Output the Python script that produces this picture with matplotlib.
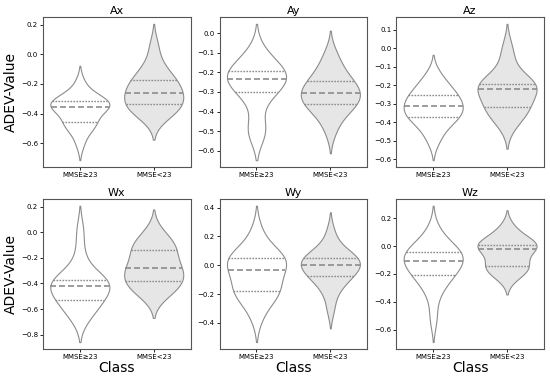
import numpy as np
import pandas as pd
import matplotlib
matplotlib.use("Agg")
import matplotlib.pyplot as plt
import seaborn as sns

classes = ["MMSE≥23", "MMSE<23"]
panels = ["Ax", "Ay", "Az", "Wx", "Wy", "Wz"]

# ADEV values per class
ax_hi = [-0.60, -0.52, -0.48, -0.47, -0.46, -0.44, -0.38, -0.36, -0.355,
         -0.355, -0.35, -0.34, -0.315, -0.31, -0.305, -0.30, -0.26, -0.19]
ax_lo = [-0.43, -0.40, -0.38, -0.36, -0.34, -0.33, -0.31, -0.29, -0.27,
         -0.25, -0.23, -0.21, -0.19, -0.17, -0.14, -0.11, -0.05, 0.06]
ay_hi = [-0.51, -0.50, -0.48, -0.36, -0.30, -0.29, -0.28, -0.26, -0.24,
         -0.225, -0.22, -0.21, -0.20, -0.19, -0.185, -0.16, -0.12, -0.09]
ay_lo = [-0.50, -0.44, -0.40, -0.38, -0.365, -0.36, -0.34, -0.32, -0.31,
         -0.30, -0.29, -0.28, -0.25, -0.24, -0.22, -0.19, -0.15, -0.10]
az_hi = [-0.50, -0.45, -0.41, -0.38, -0.375, -0.37, -0.35, -0.33, -0.32,
         -0.305, -0.30, -0.28, -0.26, -0.25, -0.23, -0.21, -0.18, -0.14]
az_lo = [-0.42, -0.38, -0.35, -0.33, -0.32, -0.31, -0.28, -0.25, -0.23,
         -0.21, -0.205, -0.20, -0.195, -0.19, -0.17, -0.13, -0.06, 0.01]
wx_hi = [-0.67, -0.64, -0.58, -0.55, -0.53, -0.52, -0.47, -0.44, -0.43,
         -0.41, -0.40, -0.39, -0.38, -0.37, -0.33, -0.28, -0.15, 0.02]
wx_lo = [-0.50, -0.47, -0.43, -0.40, -0.385, -0.38, -0.34, -0.31, -0.29,
         -0.27, -0.25, -0.22, -0.15, -0.13, -0.12, -0.09, -0.05, 0.01]
wy_hi = [-0.36, -0.26, -0.22, -0.19, -0.18, -0.17, -0.12, -0.08, -0.05,
         -0.02, 0.00, 0.02, 0.04, 0.05, 0.07, 0.09, 0.13, 0.24]
wy_lo = [-0.30, -0.19, -0.14, -0.10, -0.075, -0.07, -0.04, -0.02, -0.01,
         0.01, 0.02, 0.03, 0.045, 0.05, 0.07, 0.10, 0.13, 0.23]
wz_hi = [-0.52, -0.36, -0.28, -0.23, -0.21, -0.20, -0.16, -0.13, -0.11,
         -0.10, -0.09, -0.07, -0.05, -0.04, -0.02, 0.00, 0.04, 0.12]
wz_lo = [-0.23, -0.20, -0.17, -0.15, -0.145, -0.14, -0.10, -0.06, -0.03,
         -0.01, 0.00, 0.005, 0.008, 0.01, 0.03, 0.06, 0.09, 0.14]

values = {
    "Ax": (ax_hi, ax_lo), "Ay": (ay_hi, ay_lo), "Az": (az_hi, az_lo),
    "Wx": (wx_hi, wx_lo), "Wy": (wy_hi, wy_lo), "Wz": (wz_hi, wz_lo),
}
fills = {"MMSE≥23": "white", "MMSE<23": "#e6e6e6"}
edge = "#8c8c8c"

fig, axes = plt.subplots(2, 3, figsize=(5.5, 3.78), dpi=100)
plt.subplots_adjust(left=0.078, right=0.989, top=0.955, bottom=0.077,
                    wspace=0.196, hspace=0.213)

for i, name in enumerate(panels):
    ax = axes.flat[i]
    hi, lo = values[name]
    df = pd.DataFrame({
        "Class": [classes[0]] * len(hi) + [classes[1]] * len(lo),
        "ADEV-Value": hi + lo,
    })
    sns.violinplot(data=df, x="Class", y="ADEV-Value", hue="Class",
                   palette=fills, legend=False, inner="quart",
                   linecolor=edge, linewidth=0.8, ax=ax)
    # median long dashes, quartiles dotted
    for k, ln in enumerate(ax.lines):
        ln.set_color(edge)
        if k % 3 == 1:
            ln.set_linewidth(1.2)
            ln.set_dashes((3.6, 1.8))
        else:
            ln.set_linewidth(1.0)
            ln.set_dashes((1.2, 0.95))
    ax.set_title(name, fontsize=8, pad=2)
    ax.tick_params(labelsize=5, length=2, width=0.6, pad=1.5)
    for s in ax.spines.values():
        s.set_color("#555555")
        s.set_linewidth(0.8)
    if i % 3 == 0:
        ax.set_ylabel("ADEV-Value", fontsize=10, labelpad=2)
    else:
        ax.set_ylabel("")
    if i >= 3:
        ax.set_xlabel("Class", fontsize=10, labelpad=1)
    else:
        ax.set_xlabel("")

plt.savefig("out.png", dpi=100)
